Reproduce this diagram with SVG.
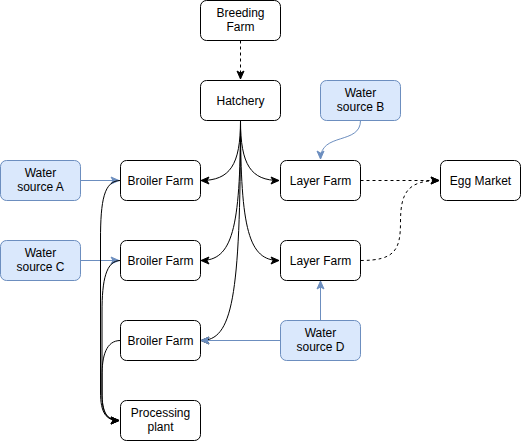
<svg xmlns="http://www.w3.org/2000/svg" width="521" height="441" viewBox="0 0 521 441">
<style>
.n rect{fill:#fff;stroke:#000;stroke-width:1}
.w rect{fill:#dae8fc;stroke:#6c8ebf;stroke-width:1}
text{font-family:"Liberation Sans",Arial,Helvetica,sans-serif;font-size:12px;fill:#000;text-anchor:middle}
.e path{fill:none;stroke:#000;stroke-width:1}
.e path.d{stroke-dasharray:3 3}
.e path.b{stroke:#6c8ebf}
</style>
<defs>
<marker id="ak" markerWidth="10" markerHeight="10" refX="9" refY="5" orient="auto" markerUnits="userSpaceOnUse"><path d="M1,1.5 L9,5 L1,8.5 L3,5 z" fill="#000" stroke="#000" stroke-width="1"/></marker>
<marker id="ab" markerWidth="10" markerHeight="10" refX="9" refY="5" orient="auto" markerUnits="userSpaceOnUse"><path d="M1,1.5 L9,5 L1,8.5 L3,5 z" fill="#6c8ebf" stroke="#6c8ebf" stroke-width="1"/></marker>
</defs>
<g id="edges" class="e">
<path class="d" d="M240.5,40.5 L240.5,79" marker-end="url(#ak)"/>
<path d="M240.5,120.5 C240.5,165 230,180.5 201,180.5" marker-end="url(#ak)"/>
<path d="M240.5,120.5 C240.5,165 251,180.5 279,180.5" marker-end="url(#ak)"/>
<path d="M240.5,120.5 C240.5,230 232,260.5 201,260.5" marker-end="url(#ak)"/>
<path d="M240.5,120.5 C240.5,230 249,260.5 279,260.5" marker-end="url(#ak)"/>
<path d="M240.5,120.5 C240.5,300 232,340.5 201,340.5" marker-end="url(#ak)"/>
<path class="b" d="M360.5,120.5 C360.5,145 320.5,132 320.5,159" marker-end="url(#ab)"/>
<path class="d" d="M360.5,180.5 L439,180.5" marker-end="url(#ak)"/>
<path class="d" d="M360.5,260.5 C395,260.5 400.5,250 400.5,222 C400.5,192 408,180.5 439,180.5" marker-end="url(#ak)"/>
<path class="b" d="M80.5,180.5 L119,180.5" marker-end="url(#ab)"/>
<path class="b" d="M80.5,260.5 L119,260.5" marker-end="url(#ab)"/>
<path class="b" d="M280.5,340.5 L201,340.5" marker-end="url(#ab)"/>
<path class="b" d="M320.5,320.5 L320.5,281" marker-end="url(#ab)"/>
<path d="M120.5,180.5 C104,180.5 100.5,200 100.5,240 L100.5,392 C100.5,413 106,420.5 119,420.5" marker-end="url(#ak)"/>
<path d="M120.5,260.5 C106,260.5 102,280 102,312 L102,392 C102,413 107,420.5 119,420.5" marker-end="url(#ak)"/>
<path d="M120.5,340.5 C106,340.5 102,356 102,376 L102,396 C102,414 108,420.5 119,420.5" marker-end="url(#ak)"/>
</g>
<g id="breeding" class="n"><rect x="200.5" y="0.5" width="80" height="40" rx="6"/><text x="240.5" y="17">Breeding</text><text x="240.5" y="31">Farm</text></g>
<g id="hatchery" class="n"><rect x="200.5" y="80.5" width="80" height="40" rx="6"/><text x="240.5" y="104.5">Hatchery</text></g>
<g id="wsB" class="w"><rect x="320.5" y="80.5" width="80" height="40" rx="6"/><text x="360.5" y="97">Water</text><text x="360.5" y="111">source B</text></g>
<g id="wsA" class="w"><rect x="0.5" y="160.5" width="80" height="40" rx="6"/><text x="40.5" y="177">Water</text><text x="40.5" y="191">source A</text></g>
<g id="broiler1" class="n"><rect x="120.5" y="160.5" width="80" height="40" rx="6"/><text x="160.5" y="184.5">Broiler Farm</text></g>
<g id="layer1" class="n"><rect x="280.5" y="160.5" width="80" height="40" rx="6"/><text x="320.5" y="184.5">Layer Farm</text></g>
<g id="egg" class="n"><rect x="440.5" y="160.5" width="80" height="40" rx="6"/><text x="480.5" y="184.5">Egg Market</text></g>
<g id="wsC" class="w"><rect x="0.5" y="240.5" width="80" height="40" rx="6"/><text x="40.5" y="257">Water</text><text x="40.5" y="271">source C</text></g>
<g id="broiler2" class="n"><rect x="120.5" y="240.5" width="80" height="40" rx="6"/><text x="160.5" y="264.5">Broiler Farm</text></g>
<g id="layer2" class="n"><rect x="280.5" y="240.5" width="80" height="40" rx="6"/><text x="320.5" y="264.5">Layer Farm</text></g>
<g id="broiler3" class="n"><rect x="120.5" y="320.5" width="80" height="40" rx="6"/><text x="160.5" y="344.5">Broiler Farm</text></g>
<g id="wsD" class="w"><rect x="280.5" y="320.5" width="80" height="40" rx="6"/><text x="320.5" y="337">Water</text><text x="320.5" y="351">source D</text></g>
<g id="processing" class="n"><rect x="120.5" y="400.5" width="80" height="40" rx="6"/><text x="160.5" y="417">Processing</text><text x="160.5" y="431">plant</text></g>
</svg>
